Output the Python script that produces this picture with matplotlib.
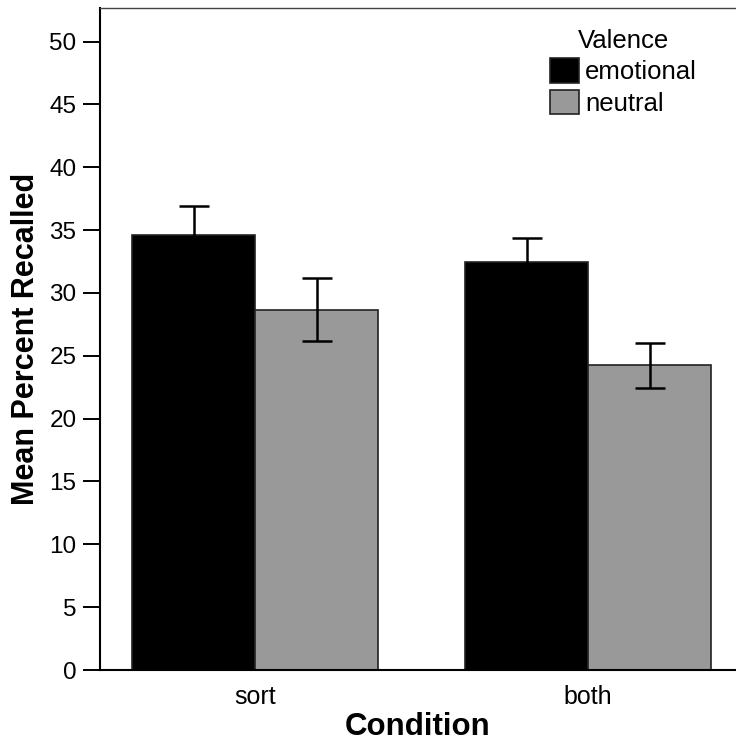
import matplotlib
matplotlib.use("Agg")
import matplotlib.pyplot as plt
import numpy as np

plt.rcParams['font.family'] = ['Liberation Sans', 'DejaVu Sans']

conditions = ["sort", "both"]
valence = ["emotional", "neutral"]
means_emotional = [34.6, 32.5]
means_neutral = [28.65, 24.25]
se_emotional = [2.3, 1.9]
se_neutral = [2.5, 1.8]
colors = ["#000000", "#999999"]

fig = plt.figure(figsize=(7.36, 7.53), dpi=100)
ax = fig.add_axes([0.1359, 0.1102, 0.8641, 0.8792])

x = np.arange(len(conditions))
w = 0.369

ax.bar(x - w / 2, means_emotional, w, color=colors[0], edgecolor="#222222",
       linewidth=1.2, label=valence[0], zorder=2)
ax.bar(x + w / 2, means_neutral, w, color=colors[1], edgecolor="#222222",
       linewidth=1.2, label=valence[1], zorder=2)
ax.errorbar(x - w / 2, means_emotional, yerr=se_emotional, fmt="none",
            ecolor="black", elinewidth=1.8, capsize=11, capthick=1.8, zorder=3)
ax.errorbar(x + w / 2, means_neutral, yerr=se_neutral, fmt="none",
            ecolor="black", elinewidth=1.8, capsize=11, capthick=1.8, zorder=3)

ax.set_xlim(-0.4655, 1.444)
ax.set_ylim(0, 52.67)
ax.set_yticks(np.arange(0, 51, 5))
ax.set_xticks(x)
ax.set_xticklabels(conditions)

ax.tick_params(axis="y", length=12, width=1.4, pad=5, labelsize=17.5)
ax.tick_params(axis="x", length=0, pad=11, labelsize=18)
for s in ["left", "bottom"]:
    ax.spines[s].set_linewidth(1.5)
ax.spines["top"].set_linewidth(1.0)
ax.spines["top"].set_color("#444444")
ax.spines["right"].set_visible(False)

ax.set_ylabel("Mean Percent Recalled", fontsize=22, fontweight="bold", labelpad=6)
ax.set_xlabel("Condition", fontsize=22.5, fontweight="bold", labelpad=2)

leg = ax.legend(title="Valence", loc="upper left", bbox_to_anchor=(0.708, 0.968),
                frameon=False, fontsize=18.5, title_fontsize=18.5,
                handlelength=1.1, handleheight=1.1, handletextpad=0.25,
                labelspacing=0.2, borderaxespad=0, borderpad=0)
for p in leg.get_patches():
    p.set_edgecolor("#222222")
    p.set_linewidth(1.2)

fig.savefig("out.png", dpi=100)
